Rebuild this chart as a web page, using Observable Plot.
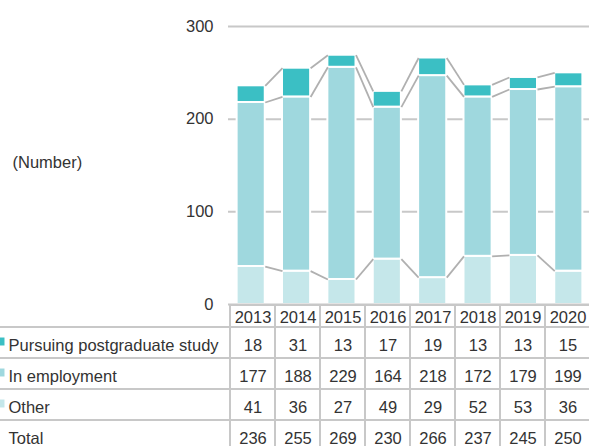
<!DOCTYPE html>
<html><head><meta charset="utf-8">
<script src="https://cdn.jsdelivr.net/npm/d3@7"></script>
<script src="https://cdn.jsdelivr.net/npm/@observablehq/plot@0.6"></script>
<style>
html,body{margin:0;padding:0;background:#fff;overflow:hidden;}
#chart svg{display:block;}
</style></head>
<body><div id="chart"></div>
<script>
// ---- data ----
const years = ["2013","2014","2015","2016","2017","2018","2019","2020"];
const postgraduate = [18,31,13,17,19,13,13,15];
const employment = [177,188,229,164,218,172,179,199];
const other = [41,36,27,49,29,52,53,36];
const totals = [236,255,269,230,266,237,245,250];
const seriesNames = ["Pursuing postgraduate study","In employment","Other"];
const totalLabel = "Total";
const yTicks = [0,100,200,300];
const unitLabel = "(Number)";

// ---- styles ----
const colors = ["#3bbfc4","#9fd8de","#c5e7ea"];
const gridColor = "#c8c8c8";
const linkColor = "#b0b0b0";
const font = "'Liberation Sans', Arial, Helvetica, sans-serif";
const fs = 16.5;
const W = 589, ML = 228, MR = -2;
const HALF = 0.31; // half bar width in band units
const baseStyle = {fontFamily: font, fontSize: fs + "px", color: "#333", background: "transparent", overflow: "visible"};

// ---- derived ----
const seriesValues = [postgraduate, employment, other];
const segs = [];
years.forEach((yr, i) => {
  const o = other[i], e = employment[i], p = postgraduate[i];
  segs.push({i, series: "Other", y1: 0, y2: o});
  segs.push({i, series: "In employment", y1: o, y2: o + e});
  segs.push({i, series: "Pursuing postgraduate study", y1: o + e, y2: o + e + p});
});
const levels = [
  other,
  other.map((o, i) => o + employment[i]),
  other.map((o, i) => o + employment[i] + postgraduate[i])
];
const links = [];
levels.forEach(lv => {
  for (let i = 0; i < lv.length - 1; i++) links.push({a: i, b: i + 1, ya: lv[i], yb: lv[i + 1]});
});

const colorScale = {domain: seriesNames, range: colors};

// ---- chart ----
const chart = Plot.plot({
  width: W, height: 305,
  marginLeft: ML, marginRight: MR, marginTop: 26, marginBottom: 1,
  style: baseStyle,
  x: {domain: [-0.5, years.length - 0.5], axis: null},
  y: {domain: [0, 300], ticks: yTicks, tickSize: 0, tickPadding: 15, label: null, tickFormat: d => String(d)},
  color: colorScale,
  marks: [
    Plot.ruleY(yTicks.filter(d => d > 0), {stroke: gridColor, strokeWidth: 2}),
    Plot.rectY(segs, {x1: d => d.i - HALF, x2: d => d.i + HALF, y1: "y1", y2: "y2", fill: "series", stroke: "#fff", strokeWidth: 2}),
    Plot.link(links, {x1: d => d.a + HALF, x2: d => d.b - HALF, y1: "ya", y2: "yb", stroke: linkColor, strokeWidth: 1.8}),
    Plot.ruleY([0], {stroke: gridColor, strokeWidth: 2}),
    Plot.text([unitLabel], {frameAnchor: "left", textAnchor: "start", dx: -216, dy: -3, fontSize: fs})
  ]
});

// ---- header row ----
const header = Plot.plot({
  width: W, height: 22,
  marginLeft: ML, marginRight: MR, marginTop: 0, marginBottom: 0,
  style: baseStyle,
  x: {type: "band", domain: years, padding: 0, axis: null},
  marks: [
    Plot.cell(years, {x: d => d, fill: "none", stroke: gridColor, strokeWidth: 2}),
    Plot.text(years, {x: d => d, dy: 1.5, fontSize: fs})
  ]
});

// ---- table rows ----
const rowNames = [...seriesNames, totalLabel];
const rowValues = [...seriesValues, totals];
const cells = [];
rowNames.forEach((r, ri) => years.forEach((yr, i) => cells.push({row: r, year: yr, value: rowValues[ri][i]})));

const table = Plot.plot({
  width: W, height: 124,
  marginLeft: ML, marginRight: MR, marginTop: 0, marginBottom: 0,
  style: baseStyle,
  x: {type: "band", domain: years, padding: 0, axis: null},
  y: {type: "band", domain: rowNames, padding: 0, axis: null},
  color: colorScale,
  marks: [
    Plot.cell(rowNames, {y: d => d, fill: "none", stroke: gridColor, strokeWidth: 2, insetLeft: -(ML + 2)}),
    Plot.cell(cells, {x: "year", y: "row", fill: "none", stroke: gridColor, strokeWidth: 2}),
    Plot.text(cells, {x: "year", y: "row", text: d => String(d.value), dy: 3, fontSize: fs}),
    Plot.text(rowNames, {y: d => d, frameAnchor: "left", textAnchor: "start", dx: -(ML - 8), dy: 3, fontSize: fs}),
    Plot.dot(seriesNames, {y: d => d, frameAnchor: "left", dx: -ML, dy: -1.5, symbol: "square", r: 4.5, fill: d => d, stroke: "none"})
  ]
});

const root = document.getElementById("chart");
root.append(chart, header, table);
</script>
</body></html>
